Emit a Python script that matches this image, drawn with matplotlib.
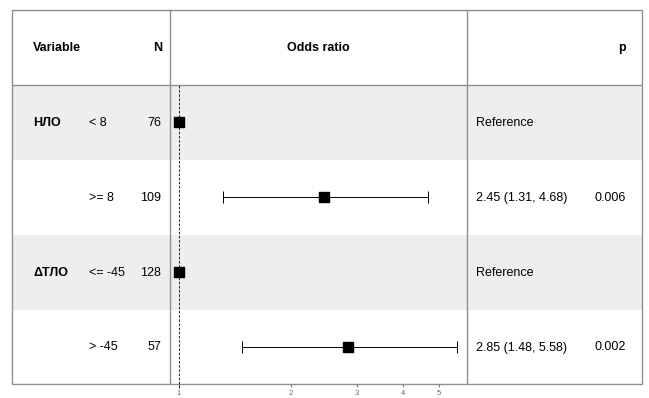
import numpy as np
import matplotlib
matplotlib.use("Agg")
import matplotlib.pyplot as plt
from matplotlib.patches import Rectangle

plt.rcParams["font.family"] = ["Liberation Sans", "DejaVu Sans"]

# model table
groups = ["НЛО", "", "ΔТЛО", ""]
levels = ["< 8", ">= 8", "<= -45", "> -45"]
counts = [76, 109, 128, 57]
odds = [1.0, 2.45, 1.0, 2.85]
ci_low = [np.nan, 1.31, np.nan, 1.48]
ci_high = [np.nan, 4.68, np.nan, 5.58]
pvals = ["", "0.006", "", "0.002"]
x_ticks = [1, 2, 3, 4, 5]

W, H = 649, 398
left, right, top, bottom = 12, 642, 10, 384
header_h = 75
row_h = 75
col1, col2 = 170, 467
line_col = "#8f8f8f"

fig = plt.figure(figsize=(W / 100, H / 100), dpi=100)

# table layer in pixel coordinates
ax = fig.add_axes([left / W, 1 - bottom / H, (right - left) / W, (bottom - top) / H])
ax.set_xlim(left, right)
ax.set_ylim(bottom, top)
ax.axis("off")

for i in range(len(levels)):
    y0 = top + header_h + i * row_h
    if i % 2 == 0:
        ax.add_patch(Rectangle((left, y0), right - left, row_h,
                               facecolor="#eeeeee", edgecolor="none", zorder=0))
ax.add_patch(Rectangle((left, top), right - left, bottom - top, fill=False,
                       edgecolor=line_col, lw=1.0, zorder=3, clip_on=False))
ax.plot([left, right], [top + header_h] * 2, color=line_col, lw=1.0, zorder=3)
for xc in (col1, col2):
    ax.plot([xc, xc], [top, bottom], color=line_col, lw=1.0, zorder=3)

fs = 9
hy = top + header_h / 2
ax.text(33, hy, "Variable", fontsize=fs, fontweight="bold", va="center")
ax.text(162, hy, "N", fontsize=fs, fontweight="bold", va="center", ha="right")
ax.text((col1 + col2) / 2, hy, "Odds ratio", fontsize=fs, fontweight="bold",
        va="center", ha="center")
ax.text(626, hy, "p", fontsize=fs, fontweight="bold", va="center", ha="right")

for i in range(len(levels)):
    yc = top + header_h + (i + 0.5) * row_h
    ax.text(33, yc, groups[i], fontsize=fs, fontweight="bold", va="center")
    ax.text(89, yc, levels[i], fontsize=fs, va="center")
    ax.text(161, yc, str(counts[i]), fontsize=fs, va="center", ha="right")
    if np.isnan(ci_low[i]):
        ax.text(476, yc, "Reference", fontsize=fs, va="center")
    else:
        ax.text(476, yc, f"{odds[i]:.2f} ({ci_low[i]:.2f}, {ci_high[i]:.2f})",
                fontsize=fs, va="center")
        ax.text(626, yc, pvals[i], fontsize=fs, va="center", ha="right")

# forest panel on a log scale
fx0, fx1 = col1, col2
fa = fig.add_axes([fx0 / W, 1 - bottom / H, (fx1 - fx0) / W, (bottom - top - header_h) / H])
fa.patch.set_alpha(0)
fa.set_xscale("log")
px_per_ln = 161.6
fa.set_xlim(np.exp((fx0 - 179) / px_per_ln), np.exp((fx1 - 179) / px_per_ln))
fa.set_ylim(len(levels), 0)
for s in fa.spines.values():
    s.set_visible(False)
fa.set_yticks([])
fa.set_xticks(x_ticks)
fa.set_xticklabels([str(t) for t in x_ticks])
fa.xaxis.set_minor_locator(matplotlib.ticker.NullLocator())
fa.tick_params(axis="x", length=2.5, width=0.6, colors="#666666",
               labelsize=5.5, pad=1.5)

fa.axvline(1, color="black", lw=0.6, ls=(0, (3, 2)), ymin=-0.012, ymax=1,
           clip_on=False, zorder=2)
ys = np.arange(len(levels)) + 0.5
err = np.array([[o - l if not np.isnan(l) else 0 for o, l in zip(odds, ci_low)],
                [h - o if not np.isnan(h) else 0 for o, h in zip(odds, ci_high)]])
has_ci = ~np.isnan(np.array(ci_low))
fa.errorbar(np.array(odds)[has_ci], ys[has_ci], xerr=err[:, has_ci], fmt="none",
            ecolor="black", elinewidth=0.7, capsize=4, capthick=0.7, zorder=3)
fa.scatter(odds, ys, marker="s", s=60, color="black", zorder=4)

fig.savefig("out.png", dpi=100)
